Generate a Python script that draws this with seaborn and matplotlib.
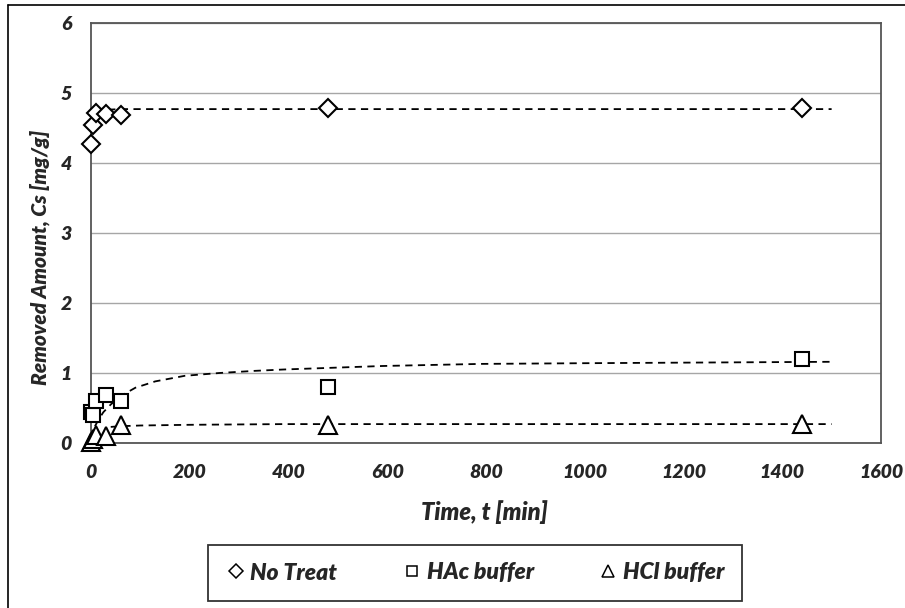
import matplotlib
matplotlib.use("Agg")
import matplotlib.pyplot as plt
import seaborn as sns
import pandas as pd
from matplotlib.lines import Line2D

sns.set_style("white")
plt.rcParams["font.family"] = ["Lato", "DejaVu Sans"]

# ----------------------------------------------------------
# DATA
# ----------------------------------------------------------
time_min = [1, 5, 10, 30, 60, 480, 1440]
no_treat = [4.27, 4.55, 4.72, 4.70, 4.68, 4.79, 4.78]
hac_buffer = [0.45, 0.40, 0.60, 0.68, 0.60, 0.80, 1.20]
hcl_buffer = [0.02, 0.06, 0.12, 0.10, 0.26, 0.26, 0.27]

# fitted (dashed) curves
fit_no_treat_t = [10, 30, 60, 200, 600, 1000, 1500]
fit_no_treat_q = [4.72, 4.76, 4.77, 4.77, 4.77, 4.77, 4.77]
fit_hac_t = [8, 15, 25, 40, 60, 90, 130, 190, 260, 330, 390, 590, 790, 1000, 1250, 1500]
fit_hac_q = [0.24, 0.33, 0.44, 0.55, 0.67, 0.79, 0.88, 0.96, 1.00, 1.03, 1.05, 1.10, 1.13, 1.14, 1.15, 1.16]
fit_hcl_t = [40, 60, 100, 200, 390, 700, 1000, 1500]
fit_hcl_q = [0.23, 0.24, 0.25, 0.26, 0.27, 0.27, 0.27, 0.27]

series = ["No Treat", "HAc buffer", "HCl buffer"]
markers = ["D", "s", "^"]
marker_sizes = [9.5, 10.5, 12.5]

df = pd.DataFrame({
    "time": time_min * 3,
    "amount": no_treat + hac_buffer + hcl_buffer,
    "series": [s for s in series for _ in time_min],
})

fig = plt.figure(figsize=(9.05, 6.08), dpi=100)
ax = fig.add_axes([91 / 905, 1 - 443 / 608, (881 - 91) / 905, (443 - 23) / 608])

# dashed fit lines
for t, q in [(fit_no_treat_t, fit_no_treat_q), (fit_hac_t, fit_hac_q), (fit_hcl_t, fit_hcl_q)]:
    sns.lineplot(x=t, y=q, ax=ax, color="black", linestyle=(0, (4, 3)), linewidth=1.3,
                 zorder=2, legend=False)

# hollow markers
for name, m, ms in zip(series, markers, marker_sizes):
    sub = df[df["series"] == name]
    ax.plot(sub["time"], sub["amount"], linestyle="none", marker=m, markersize=ms,
            markerfacecolor="white", markeredgecolor="black", markeredgewidth=1.5,
            zorder=3, clip_on=False)

ax.set_xlim(0, 1600)
ax.set_ylim(0, 6)
ax.set_xticks(range(0, 1601, 200))
ax.set_yticks(range(0, 7))
ax.yaxis.grid(True, color="#a6a6a6", linewidth=1)
ax.set_axisbelow(True)
for sp in ax.spines.values():
    sp.set_color("#555555")
    sp.set_linewidth(1.3)

ax.tick_params(axis="x", length=0, pad=15)
ax.tick_params(axis="y", length=0, pad=14)
for lab in ax.get_xticklabels() + ax.get_yticklabels():
    lab.set_fontsize(14)
    lab.set_fontweight("heavy")
    lab.set_fontstyle("italic")

ax.set_xlabel("Time, t [min]", fontsize=17, fontweight="heavy", fontstyle="italic")
ax.set_ylabel("Removed Amount, Cs [mg/g]", fontsize=15, fontweight="heavy", fontstyle="italic")
ax.xaxis.set_label_coords((484 - 91) / 790, -(512 - 443) / 420)
ax.yaxis.set_label_coords((40 - 91) / 790, (443 - 257) / 420)
ax.xaxis.label.set_va("center")
ax.yaxis.label.set_va("center")

# legend
handles = [Line2D([], [], linestyle="none", marker=m, markersize=ms * 0.72,
                  markerfacecolor="white", markeredgecolor="black", markeredgewidth=1.1)
           for m, ms in zip(markers, marker_sizes)]
leg = fig.legend(handles, series, loc="center", bbox_to_anchor=(475 / 905, 1 - 573 / 608),
                 ncol=3, frameon=True, fancybox=False, handletextpad=0.2,
                 columnspacing=2.8, borderpad=0.75, handlelength=0.9,
                 prop={"size": 16.5, "weight": "heavy", "style": "italic"})
leg.get_frame().set_edgecolor("black")
leg.get_frame().set_linewidth(1.3)

# outer chart border (left and top edges visible)
fig.add_artist(Line2D([8 / 905, 8 / 905], [0, 1 - 5 / 608], color="black", linewidth=1.2))
fig.add_artist(Line2D([8 / 905, 1], [1 - 5 / 608, 1 - 5 / 608], color="black", linewidth=1.2))

fig.savefig("out.png", dpi=100)
